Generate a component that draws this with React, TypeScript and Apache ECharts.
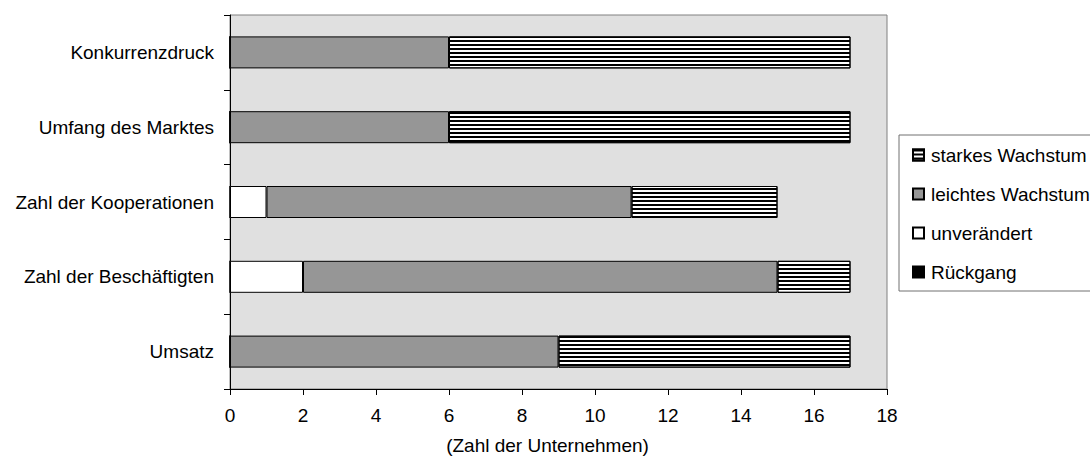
import React, { useEffect, useRef } from "react";
import * as echarts from "echarts";

const categories = ["Umsatz", "Zahl der Beschäftigten", "Zahl der Kooperationen", "Umfang des Marktes", "Konkurrenzdruck"];
const rueckgang = [0, 0, 0, 0, 0];
const unveraendert = [0, 2, 1, 0, 0];
const leichtes = [9, 13, 10, 6, 6];
const starkes = [8, 2, 4, 11, 11];
const legendOrder = ["starkes Wachstum", "leichtes Wachstum", "unverändert", "Rückgang"];
const xTicks = [0, 2, 4, 6, 8, 10, 12, 14, 16, 18];

const FONT = "'Liberation Sans', Arial, sans-serif";
const FS = 19;

export default function App() {
  const ref = useRef<HTMLDivElement>(null);
  useEffect(() => {
    const chart = echarts.init(ref.current!, null, { renderer: "svg" });
    const base = {
      type: "bar",
      stack: "total",
      barWidth: 32,
      itemStyle: { borderColor: "#000", borderWidth: 1 },
    };
    chart.setOption({
      animation: false,
      textStyle: { fontFamily: FONT },
      grid: {
        left: 230,
        right: 203,
        top: 15,
        bottom: 66,
        show: true,
        backgroundColor: "#e0e0e0",
        borderColor: "#808080",
        borderWidth: 1,
      },
      legend: {
        orient: "vertical",
        left: 899,
        top: 135,
        data: legendOrder,
        icon: "rect",
        itemWidth: 11,
        itemHeight: 11,
        itemGap: 19,
        padding: [10, 10, 9, 13],
        borderColor: "#707070",
        borderWidth: 1,
        backgroundColor: "#fff",
        textStyle: { fontFamily: FONT, fontSize: FS, lineHeight: 20, color: "#000", padding: [0, 0, 0, 2] },
      },
      xAxis: {
        type: "value",
        min: 0,
        max: xTicks[xTicks.length - 1],
        interval: 2,
        name: "(Zahl der Unternehmen)",
        nameLocation: "middle",
        nameGap: 47,
        nameTextStyle: { fontFamily: FONT, fontSize: FS, color: "#000", padding: [0, 22, 0, 0] },
        axisLine: { show: true, lineStyle: { color: "#000", width: 1 } },
        axisTick: { show: true, length: 6, lineStyle: { color: "#000" } },
        axisLabel: { fontFamily: FONT, fontSize: FS, color: "#000", margin: 17 },
        splitLine: { show: false },
      },
      yAxis: {
        type: "category",
        data: categories,
        axisLine: { show: true, lineStyle: { color: "#000", width: 1 } },
        axisTick: { show: true, length: 6, lineStyle: { color: "#000" } },
        axisLabel: { fontFamily: FONT, fontSize: FS, color: "#000", margin: 16 },
      },
      series: [
        { ...base, name: "Rückgang", data: rueckgang, itemStyle: { ...base.itemStyle, color: "#000" } },
        { ...base, name: "unverändert", data: unveraendert, itemStyle: { ...base.itemStyle, color: "#fff" } },
        { ...base, name: "leichtes Wachstum", data: leichtes, itemStyle: { ...base.itemStyle, color: "#969696" } },
        {
          ...base,
          name: "starkes Wachstum",
          data: starkes,
          itemStyle: {
            ...base.itemStyle,
            color: "#fff",
            decal: {
              symbol: "rect",
              symbolSize: 1,
              color: "#000",
              backgroundColor: "#fff",
              dashArrayX: [1, 0],
              dashArrayY: [1.5, 1.5],
              rotation: 0,
            },
          },
        },
      ],
    });
    return () => chart.dispose();
  }, []);
  return (
    <div
      ref={ref}
      style={{ position: "fixed", left: 0, top: 0, width: 1090, height: 460, background: "#fff" }}
    />
  );
}
